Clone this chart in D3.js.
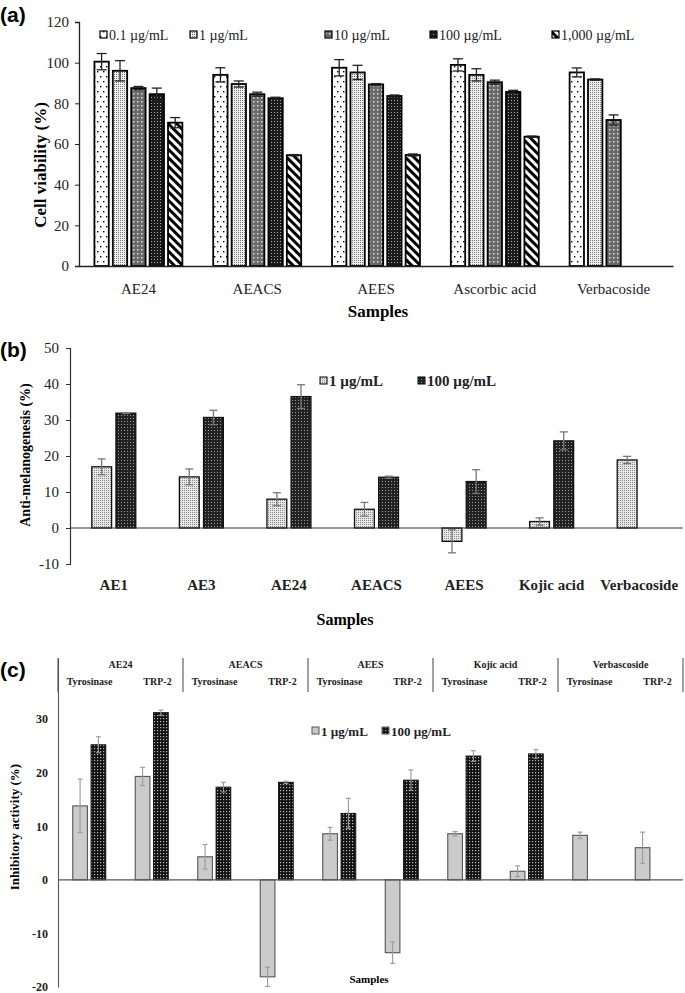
<!DOCTYPE html>
<html><head><meta charset="utf-8">
<script src="https://cdn.jsdelivr.net/npm/d3@7"></script>
<style>body{margin:0;background:#fff}svg{display:block}</style>
</head><body>
<script>
// ---------- Panel (a) data ----------
const aCategories = ["AE24","AEACS","AEES","Ascorbic acid","Verbacoside"];
const aSeries = ["0.1 µg/mL","1 µg/mL","10 µg/mL","100 µg/mL","1,000 µg/mL"];
const aValues = [
  [100.5, 96.0, 87.5, 84.5, 70.5],
  [94.0, 89.5, 84.5, 82.5, 54.5],
  [97.5, 95.2, 89.3, 83.6, 54.6],
  [98.9, 94.0, 90.4, 85.6, 63.6],
  [95.2, 91.7, 71.8, null, null]
];
const aErrors = [
  [4.0, 5.0, 0.8, 3.0, 2.5],
  [3.5, 1.5, 1.0, 0.5, 0.3],
  [4.0, 3.5, 0.4, 0.5, 0.5],
  [3.0, 3.0, 1.0, 0.8, 0.3],
  [2.2, 0.3, 2.5, null, null]
];
const aTicks = [0, 20, 40, 60, 80, 100, 120];

// ---------- Panel (b) data ----------
const bCategories = ["AE1","AE3","AE24","AEACS","AEES","Kojic acid","Verbacoside"];
const bSeries = ["1 µg/mL","100 µg/mL"];
const bValues = [
  [17.0, 31.9],
  [14.2, 30.7],
  [8.0, 36.5],
  [5.2, 14.1],
  [-3.7, 12.9],
  [1.8, 24.2],
  [18.9, null]
];
const bErrors = [
  [2.2, 0.1],
  [2.2, 2.0],
  [1.8, 3.3],
  [1.9, 0.3],
  [3.2, 3.3],
  [1.0, 2.5],
  [1.0, null]
];
const bTicks = [-10, 0, 10, 20, 30, 40, 50];

// ---------- Panel (c) data ----------
const cSamples = ["AE24","AEACS","AEES","Kojic acid","Verbascoside"];
const cEnzymes = ["Tyrosinase","TRP-2"];
const cSeries = ["1 µg/mL","100 µg/mL"];
// order: for each sample, Tyrosinase then TRP-2
const cValues1 = [13.8, 19.3, 4.3, -18.1, 8.6, -13.6, 8.6, 1.6, 8.3, 6.0];
const cErrors1 = [5.0, 1.7, 2.3, 1.8, 1.2, 2.0, 0.4, 1.0, 0.6, 2.9];
const cValues100 = [25.2, 31.2, 17.3, 18.2, 12.4, 18.6, 23.1, 23.5, null, null];
const cErrors100 = [1.5, 0.5, 0.9, 0.2, 2.8, 1.9, 1.0, 0.8, null, null];
const cTicks = [-20, -10, 0, 10, 20, 30];

const W = 685, H = 993;
const serif = "'Liberation Serif','Times New Roman',serif";
const sans = "'Liberation Sans',Arial,sans-serif";
const plain = d => String(d);

const svg = d3.select("body").append("svg").attr("width", W).attr("height", H);
const defs = svg.append("defs");

function pattern(id, w, h, bg, draw, transform) {
  const p = defs.append("pattern").attr("id", id).attr("patternUnits", "userSpaceOnUse")
    .attr("width", w).attr("height", h);
  if (transform) p.attr("patternTransform", transform);
  p.append("rect").attr("width", w).attr("height", h).attr("fill", bg);
  draw(p);
}
// (a) patterns
pattern("pa0", 6, 10, "#fff", p => {
  p.append("rect").attr("x", 1).attr("y", 1).attr("width", 1.4).attr("height", 1.4).attr("fill", "#000");
  p.append("rect").attr("x", 4).attr("y", 6).attr("width", 1.4).attr("height", 1.4).attr("fill", "#000");
});
pattern("pa1", 2, 2, "#eee", p => {
  p.append("rect").attr("x", 0).attr("y", 0).attr("width", 1).attr("height", 1).attr("fill", "#777");
});
pattern("pa2", 4, 4, "#6a6a6a", p => {
  p.append("rect").attr("x", 1).attr("y", 1).attr("width", 1.5).attr("height", 1.5).attr("fill", "#ddd");
});
pattern("pa3", 3, 3, "#1a1a1a", p => {
  p.append("rect").attr("x", 1).attr("y", 1).attr("width", 1).attr("height", 1).attr("fill", "#aaa");
});
pattern("pa4", 6, 6, "#fff", p => {
  p.append("rect").attr("x", 0).attr("y", 0).attr("width", 3).attr("height", 6).attr("fill", "#000");
}, "rotate(-45)");
// (b) patterns
pattern("pb0", 2, 2, "#e6e6e6", p => {
  p.append("rect").attr("x", 0).attr("y", 0).attr("width", 1).attr("height", 1).attr("fill", "#8a8a8a");
});
pattern("pb1", 3, 3, "#222", p => {
  p.append("rect").attr("x", 1).attr("y", 1).attr("width", 1).attr("height", 1).attr("fill", "#999");
});
// (c) pattern
pattern("pc1", 3, 3, "#111", p => {
  p.append("rect").attr("x", 1).attr("y", 1).attr("width", 1.2).attr("height", 1.2).attr("fill", "#bbb");
});

function errBar(g, x, yTop, yBot, cap, color, sw) {
  g.append("line").attr("x1", x).attr("x2", x).attr("y1", yTop).attr("y2", yBot).attr("stroke", color).attr("stroke-width", sw);
  g.append("line").attr("x1", x - cap / 2).attr("x2", x + cap / 2).attr("y1", yTop).attr("y2", yTop).attr("stroke", color).attr("stroke-width", sw);
  g.append("line").attr("x1", x - cap / 2).attr("x2", x + cap / 2).attr("y1", yBot).attr("y2", yBot).attr("stroke", color).attr("stroke-width", sw);
}

// =================== Panel (a) ===================
(function () {
  const g = svg.append("g");
  const x = d3.scaleBand().domain(aCategories).range([79, 673]);
  const xi = d3.scaleBand().domain(aSeries).range([-46, 46]).paddingInner(0.22).paddingOuter(0.11);
  const y = d3.scaleLinear().domain([0, 120]).range([266, 22]);
  const fills = ["url(#pa0)", "url(#pa1)", "url(#pa2)", "url(#pa3)", "url(#pa4)"];

  aCategories.forEach((c, ci) => {
    aSeries.forEach((s, si) => {
      const v = aValues[ci][si];
      if (v == null) return;
      const bx = x(c) + x.bandwidth() / 2 + xi(s);
      g.append("rect").attr("x", bx).attr("y", y(v)).attr("width", xi.bandwidth()).attr("height", y(0) - y(v))
        .attr("fill", fills[si]).attr("stroke", "#000").attr("stroke-width", 1.8);
      const e = aErrors[ci][si];
      errBar(g, bx + xi.bandwidth() / 2, y(v + e), y(v - e), 10, "#222", 1.3);
    });
  });

  const ya = g.append("g").attr("transform", "translate(79,0)")
    .call(d3.axisLeft(y).tickValues(aTicks).tickFormat(plain).tickSize(4).tickPadding(6));
  ya.select(".domain").attr("stroke", "#222").attr("stroke-width", 1.3);
  ya.selectAll(".tick line").attr("stroke", "#222");
  ya.selectAll("text").attr("font-family", serif).attr("font-size", 15).attr("fill", "#222");

  const xa = g.append("g").attr("transform", "translate(0,266)")
    .call(d3.axisBottom(x).tickSize(0).tickPadding(17));
  xa.select(".domain").attr("stroke", "#222").attr("stroke-width", 1.3);
  xa.selectAll("text").attr("font-family", serif).attr("font-size", 15).attr("fill", "#222");

  g.append("text").attr("x", 378).attr("y", 317).attr("text-anchor", "middle")
    .attr("font-family", serif).attr("font-weight", "bold").attr("font-size", 17).text("Samples");
  g.append("text").attr("transform", "translate(46,165) rotate(-90)").attr("text-anchor", "middle")
    .attr("font-family", serif).attr("font-weight", "bold").attr("font-size", 17).text("Cell viability (%)");

  const lx = [100, 190, 325, 430, 552];
  aSeries.forEach((s, i) => {
    g.append("rect").attr("x", lx[i]).attr("y", 31).attr("width", 7).attr("height", 7)
      .attr("fill", fills[i]).attr("stroke", "#000").attr("stroke-width", 1.2);
    g.append("text").attr("x", lx[i] + 9).attr("y", 40).attr("font-family", serif).attr("font-size", 14)
      .attr("fill", "#222").text(s);
  });

  g.append("text").attr("x", 0).attr("y", 22).attr("font-family", sans).attr("font-weight", "bold")
    .attr("font-size", 21).text("(a)");
})();

// =================== Panel (b) ===================
(function () {
  const g = svg.append("g");
  const x = d3.scaleBand().domain(bCategories).range([70, 683]);
  const xi = d3.scaleBand().domain(bSeries).range([-22, 22]).paddingInner(0.18);
  const y = d3.scaleLinear().domain([-10, 50]).range([564, 348]);
  const fills = ["url(#pb0)", "url(#pb1)"];

  bCategories.forEach((c, ci) => {
    bSeries.forEach((s, si) => {
      const v = bValues[ci][si];
      if (v == null) return;
      const bx = x(c) + x.bandwidth() / 2 + xi(s);
      g.append("rect").attr("x", bx).attr("y", Math.min(y(v), y(0))).attr("width", xi.bandwidth())
        .attr("height", Math.abs(y(0) - y(v))).attr("fill", fills[si]).attr("stroke", "#111").attr("stroke-width", 1.3);
      const e = bErrors[ci][si];
      errBar(g, bx + xi.bandwidth() / 2, y(v + e), y(v - e), 8, "#777", 1.3);
    });
  });

  const ya = g.append("g").attr("transform", "translate(70,0)")
    .call(d3.axisLeft(y).tickValues(bTicks).tickFormat(plain).tickSize(4).tickPadding(7));
  ya.select(".domain").attr("stroke", "#333").attr("stroke-width", 1.2);
  ya.selectAll(".tick line").attr("stroke", "#333");
  ya.selectAll("text").attr("font-family", serif).attr("font-size", 15).attr("fill", "#222");

  // zero baseline
  g.append("line").attr("x1", 70).attr("x2", 683).attr("y1", y(0)).attr("y2", y(0)).attr("stroke", "#333").attr("stroke-width", 1.2);

  bCategories.forEach(c => {
    g.append("text").attr("x", x(c) + x.bandwidth() / 2).attr("y", 590).attr("text-anchor", "middle")
      .attr("font-family", serif).attr("font-weight", "bold").attr("font-size", 15).attr("fill", "#222").text(c);
  });

  g.append("text").attr("x", 345).attr("y", 625).attr("text-anchor", "middle")
    .attr("font-family", serif).attr("font-weight", "bold").attr("font-size", 16).text("Samples");
  g.append("text").attr("transform", "translate(30,455) rotate(-90)").attr("text-anchor", "middle")
    .attr("font-family", serif).attr("font-weight", "bold").attr("font-size", 14).text("Anti-melanogenesis (%)");

  const lx = [320, 418];
  bSeries.forEach((s, i) => {
    g.append("rect").attr("x", lx[i]).attr("y", 377).attr("width", 7).attr("height", 7)
      .attr("fill", fills[i]).attr("stroke", "#000").attr("stroke-width", 1);
    g.append("text").attr("x", lx[i] + 9).attr("y", 386).attr("font-family", serif).attr("font-weight", "bold")
      .attr("font-size", 15).attr("fill", "#222").text(s);
  });

  g.append("text").attr("x", 0).attr("y", 357).attr("font-family", sans).attr("font-weight", "bold")
    .attr("font-size", 21).text("(b)");
})();

// =================== Panel (c) ===================
(function () {
  const g = svg.append("g");
  const cats = [];
  cSamples.forEach(s => cEnzymes.forEach(e => cats.push(s + "|" + e)));
  const x = d3.scaleBand().domain(cats).range([58, 683]);
  const xs = d3.scaleBand().domain(cSamples).range([58, 683]);
  const xi = d3.scaleBand().domain(cSeries).range([-16.5, 16.5]).paddingInner(0.2);
  const y = d3.scaleLinear().domain([-20, 41.4]).range([987, 658]);

  cats.forEach((c, ci) => {
    const cx = x(c) + x.bandwidth() / 2;
    const v1 = cValues1[ci];
    if (v1 != null) {
      const bx = cx + xi(cSeries[0]);
      g.append("rect").attr("x", bx).attr("y", Math.min(y(v1), y(0))).attr("width", xi.bandwidth())
        .attr("height", Math.abs(y(0) - y(v1))).attr("fill", "#cbcbcb").attr("stroke", "#555").attr("stroke-width", 1.1);
      const e = cErrors1[ci];
      errBar(g, bx + xi.bandwidth() / 2, y(v1 + e), y(v1 - e), 5, "#999", 1.1);
    }
    const v2 = cValues100[ci];
    if (v2 != null) {
      const bx = cx + xi(cSeries[1]);
      g.append("rect").attr("x", bx).attr("y", Math.min(y(v2), y(0))).attr("width", xi.bandwidth())
        .attr("height", Math.abs(y(0) - y(v2))).attr("fill", "url(#pc1)").attr("stroke", "#111").attr("stroke-width", 1);
      const e = cErrors100[ci];
      errBar(g, bx + xi.bandwidth() / 2, y(v2 + e), y(v2 - e), 5, "#999", 1.1);
    }
  });

  const ya = g.append("g").attr("transform", "translate(58,0)")
    .call(d3.axisLeft(y).tickValues(cTicks).tickFormat(plain).tickSize(0).tickPadding(10));
  ya.select(".domain").attr("stroke", "#555").attr("stroke-width", 1.1);
  ya.selectAll("text").attr("font-family", serif).attr("font-weight", "bold").attr("font-size", 12).attr("fill", "#222");

  g.append("line").attr("x1", 58).attr("x2", 683).attr("y1", y(0)).attr("y2", y(0)).attr("stroke", "#555").attr("stroke-width", 1.1);

  // header table
  const dividers = cSamples.map(s => xs(s)).concat([683]);
  dividers.forEach(dx => {
    g.append("line").attr("x1", dx).attr("x2", dx).attr("y1", 658).attr("y2", 692).attr("stroke", "#555").attr("stroke-width", 1.1);
  });
  cSamples.forEach(s => {
    const mid = xs(s) + xs.bandwidth() / 2;
    g.append("text").attr("x", mid).attr("y", 668).attr("text-anchor", "middle").attr("font-family", serif)
      .attr("font-weight", "bold").attr("font-size", 10).attr("fill", "#222").text(s);
    g.append("text").attr("x", mid - 31).attr("y", 685).attr("text-anchor", "middle").attr("font-family", serif)
      .attr("font-weight", "bold").attr("font-size", 10).attr("fill", "#222").text(cEnzymes[0]);
    g.append("text").attr("x", mid + 37).attr("y", 685).attr("text-anchor", "middle").attr("font-family", serif)
      .attr("font-weight", "bold").attr("font-size", 10).attr("fill", "#222").text(cEnzymes[1]);
  });

  const lx = [312, 382];
  const lf = ["#cbcbcb", "url(#pc1)"];
  cSeries.forEach((s, i) => {
    g.append("rect").attr("x", lx[i]).attr("y", 727).attr("width", 7).attr("height", 7)
      .attr("fill", lf[i]).attr("stroke", "#555").attr("stroke-width", 1);
    g.append("text").attr("x", lx[i] + 9).attr("y", 736).attr("font-family", serif).attr("font-weight", "bold")
      .attr("font-size", 13).attr("fill", "#222").text(s);
  });

  g.append("text").attr("x", 369).attr("y", 983).attr("text-anchor", "middle")
    .attr("font-family", serif).attr("font-weight", "bold").attr("font-size", 11).text("Samples");
  g.append("text").attr("transform", "translate(19,827) rotate(-90)").attr("text-anchor", "middle")
    .attr("font-family", serif).attr("font-weight", "bold").attr("font-size", 13).text("Inhibitory activity (%)");

  g.append("text").attr("x", 0).attr("y", 677).attr("font-family", sans).attr("font-weight", "bold")
    .attr("font-size", 21).text("(c)");
})();
</script>
</body></html>
